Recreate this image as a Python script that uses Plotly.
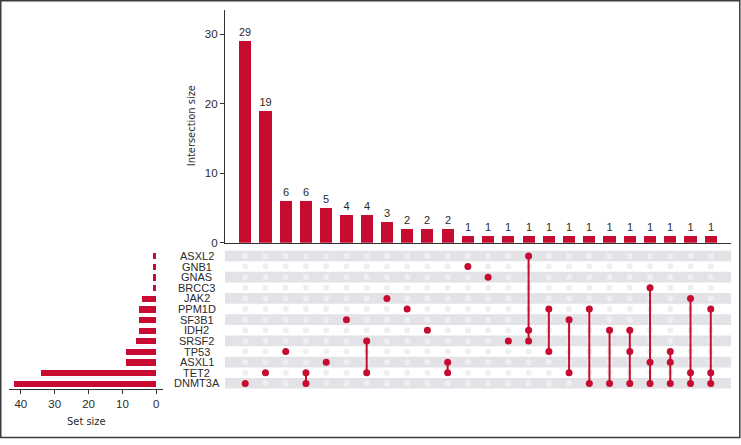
import plotly.graph_objects as go

# ---------------- data ----------------
sets = ["ASXL2", "GNB1", "GNAS", "BRCC3", "JAK2", "PPM1D", "SF3B1", "IDH2",
        "SRSF2", "TP53", "ASXL1", "TET2", "DNMT3A"]
set_sizes = [1, 1, 1, 1, 4, 5, 5, 5, 6, 9, 9, 34, 42]

intersection_sizes = [29, 19, 6, 6, 5, 4, 4, 3, 2, 2, 2,
                      1, 1, 1, 1, 1, 1, 1, 1, 1, 1, 1, 1, 1]
intersection_members = [
    ["DNMT3A"], ["TET2"], ["TP53"], ["TET2", "DNMT3A"], ["ASXL1"], ["SF3B1"],
    ["SRSF2", "TET2"], ["JAK2"], ["PPM1D"], ["IDH2"], ["ASXL1", "TET2"],
    ["GNB1"], ["GNAS"], ["SRSF2"], ["ASXL2", "IDH2", "SRSF2"], ["PPM1D", "TP53"],
    ["SF3B1", "TET2"], ["PPM1D", "DNMT3A"], ["IDH2", "DNMT3A"],
    ["IDH2", "TP53", "DNMT3A"], ["BRCC3", "ASXL1", "DNMT3A"],
    ["TP53", "ASXL1", "DNMT3A"], ["JAK2", "TET2", "DNMT3A"],
    ["PPM1D", "TET2", "DNMT3A"],
]
inter_ticks = [0, 10, 20, 30]
set_ticks = [0, 10, 20, 30, 40]

# ---------------- style ----------------
W, H = 741, 445
RED = "#c60c30"
DOT_OFF = "#efeff1"
STRIPE = "#e3e2e7"
TXT = "#2b2b2b"
FONT = "Liberation Sans, Arial, sans-serif"
NARROW = "Liberation Sans Narrow, DejaVu Sans Condensed, sans-serif"


def px(x):
    return x / W


def py(y):
    return 1 - y / H


n_int = len(intersection_sizes)
n_set = len(sets)
cols = list(range(n_int))
rows = {s: i for i, s in enumerate(sets)}

fig = go.Figure()

# intersection bars
fig.add_trace(go.Bar(
    x=cols, y=intersection_sizes, width=0.6, marker=dict(color=RED, line=dict(width=0)),
    text=[str(v) for v in intersection_sizes], textposition="outside",
    textfont=dict(size=11, color=TXT, family=FONT), cliponaxis=False,
    xaxis="x", yaxis="y", showlegend=False, hoverinfo="skip",
))

# inactive grid dots
gx, gy = [], []
for c in cols:
    for r in range(n_set):
        gx.append(c)
        gy.append(r)
fig.add_trace(go.Scatter(
    x=gx, y=gy, mode="markers", marker=dict(size=6, color=DOT_OFF),
    xaxis="x", yaxis="y2", showlegend=False, hoverinfo="skip",
))

# connecting lines
lx, ly = [], []
for c, mem in zip(cols, intersection_members):
    if len(mem) > 1:
        rr = [rows[m] for m in mem]
        lx += [c, c, None]
        ly += [min(rr), max(rr), None]
fig.add_trace(go.Scatter(
    x=lx, y=ly, mode="lines", line=dict(color=RED, width=2),
    xaxis="x", yaxis="y2", showlegend=False, hoverinfo="skip",
))

# active dots
ax_, ay_ = [], []
for c, mem in zip(cols, intersection_members):
    for m in mem:
        ax_.append(c)
        ay_.append(rows[m])
fig.add_trace(go.Scatter(
    x=ax_, y=ay_, mode="markers", marker=dict(size=7, color=RED),
    xaxis="x", yaxis="y2", showlegend=False, hoverinfo="skip",
))

# set size bars
fig.add_trace(go.Bar(
    x=set_sizes, y=list(range(n_set)), orientation="h", width=0.58,
    marker=dict(color=RED, line=dict(width=0)),
    xaxis="x3", yaxis="y3", showlegend=False, hoverinfo="skip",
))

# stripes
shapes = []
for i in range(n_set):
    if i % 2 == 0:
        shapes.append(dict(type="rect", xref="x", yref="y2", x0=-1, x1=n_int,
                           y0=i - 0.5, y1=i + 0.5, fillcolor=STRIPE,
                           line=dict(width=0), layer="below"))
# frame
shapes.append(dict(type="rect", xref="paper", yref="paper",
                   x0=px(0.75), x1=px(739.8), y0=py(443.5), y1=py(0.75),
                   line=dict(color="#3c3c3c", width=1.5)))

annotations = []
for i, s in enumerate(sets):
    annotations.append(dict(text=s, x=px(196.7), xref="paper", y=i, yref="y2",
                            xanchor="center", yanchor="middle", showarrow=False,
                            font=dict(size=11, color=TXT, family=FONT)))
annotations.append(dict(text="Intersection size", x=px(191), y=py(128),
                        xref="paper", yref="paper", textangle=-90,
                        showarrow=False, xanchor="center", yanchor="middle",
                        font=dict(size=11, color=TXT, family=NARROW)))
annotations.append(dict(text="Set size", x=px(86.7), y=py(427.7),
                        xref="paper", yref="paper", showarrow=False,
                        xanchor="center", yanchor="middle",
                        font=dict(size=11, color=TXT, family=NARROW)))

fig.update_layout(
    width=W, height=H, margin=dict(l=0, r=0, t=0, b=0),
    paper_bgcolor="white", plot_bgcolor="rgba(0,0,0,0)",
    font=dict(family=FONT, color=TXT, size=11),
    shapes=shapes, annotations=annotations, bargap=0,
    xaxis=dict(domain=[px(225), px(731)], range=[-1, n_int], anchor="y",
               showline=True, linecolor="#333", linewidth=1.2, showgrid=False,
               zeroline=False, showticklabels=False, ticks="", fixedrange=True),
    yaxis=dict(domain=[py(246), py(10)], range=[0, 33.5], anchor="x",
               showline=True, linecolor="#333", linewidth=1.2, showgrid=False,
               zeroline=False, tickvals=inter_ticks, ticks="outside", ticklen=4,
               tickcolor="#333", tickfont=dict(size=11.5, color=TXT)),
    yaxis2=dict(domain=[py(394), py(254)], range=[n_set - 0.5, -0.5],
                anchor="free", position=px(225),
                showline=False, showgrid=False, zeroline=False,
                showticklabels=False, ticks=""),
    xaxis3=dict(domain=[px(9.3), px(163.3)], range=[43.4, -2.07], anchor="y3",
                showline=True, linecolor="#333", linewidth=1.2, showgrid=False,
                zeroline=False, tickvals=set_ticks, ticks="outside", ticklen=4,
                tickcolor="#333", tickfont=dict(size=11.5, color=TXT)),
    yaxis3=dict(domain=[py(394), py(254)], range=[n_set - 0.5, -0.5],
                anchor="x3", showline=False, showgrid=False, zeroline=False,
                showticklabels=False, ticks=""),
)

fig.write_html("out.html", config={"displayModeBar": False},
               post_script="document.body.style.margin='0';")
